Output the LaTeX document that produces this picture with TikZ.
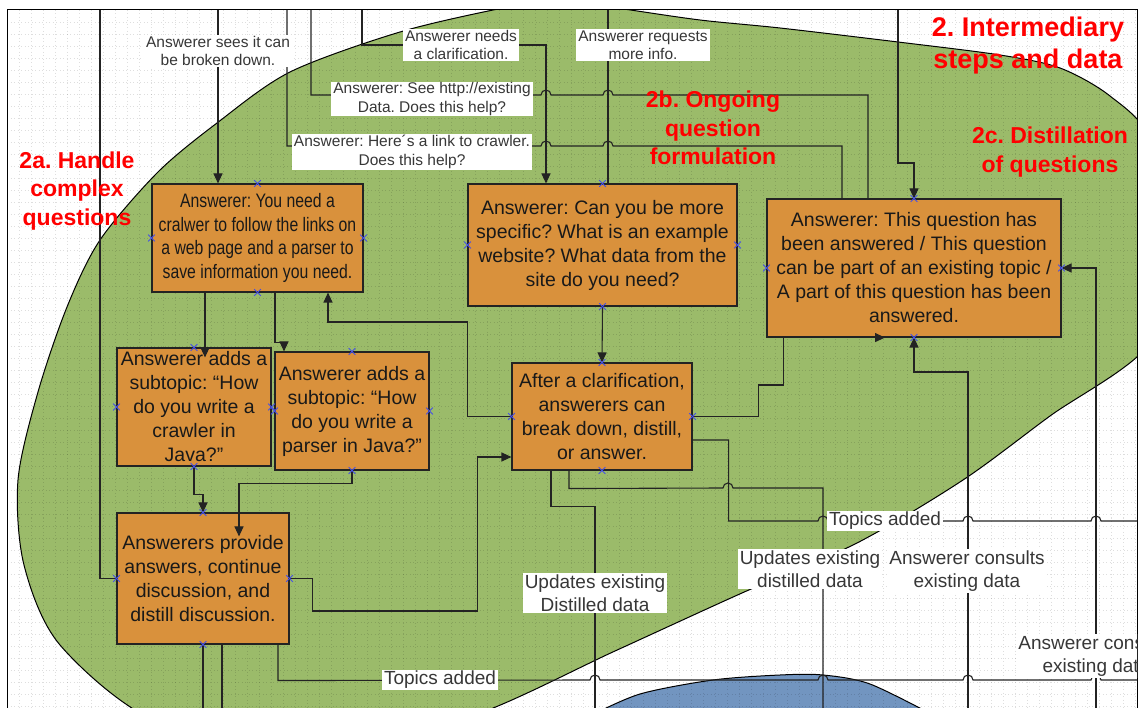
\documentclass[tikz,border=0pt]{standalone}
\usepackage{fontspec}
\setmainfont{Liberation Sans}
\newfontfamily\narrowfont[FakeStretch=0.81]{Liberation Sans}
\usetikzlibrary{arrows.meta,shapes.misc}
\frenchspacing
\definecolor{blobgreen}{RGB}{155,187,106}
\definecolor{boxorange}{RGB}{217,145,60}
\definecolor{poolblue}{RGB}{114,149,192}
\definecolor{inkgray}{RGB}{35,35,35}
\definecolor{tagtext}{RGB}{55,55,55}
\definecolor{stagered}{RGB}{255,0,0}
\definecolor{cpblue}{RGB}{70,80,230}
\tikzset{
  stepbox/.style={draw=inkgray, line width=1.1pt, fill=boxorange, align=center,
    inner sep=0pt, text=black!90, font=\fontsize{19.5}{24}\selectfont},
  tag/.style={fill=white, inner xsep=2pt, inner ysep=1pt, align=center,
    text=tagtext, font=\fontsize{15.5}{18.5}\selectfont},
  bigtag/.style={tag, inner ysep=1.5pt, font=\fontsize{19}{23}\selectfont},
  stage/.style={text=stagered, align=center, font=\bfseries\fontsize{23}{28.5}\selectfont},
  wire/.style={draw=inkgray, line width=1.1pt},
  feed/.style={wire, -{Triangle[length=10pt,width=9pt]}},
  cpmark/.style={cross out, draw=cpblue, line width=0.8pt, minimum size=6pt, inner sep=0pt},
  gridline/.style={black, opacity=0.13, line width=0.6pt, dash pattern=on 1pt off 2.5pt},
}
% line jump over a crossing wire
\newcommand{\hop}[2]{-- (#1-5,#2) arc[start angle=180,end angle=0,radius=5pt]}
\begin{document}
\begin{tikzpicture}[x=1pt, y=-1pt]
  \useasboundingbox (0,0) rectangle (1144,708);

  % stage area and data pool
  \begin{scope}
    \clip (7,10) rectangle (1137,720);
    \filldraw[fill=blobgreen, draw=black, line width=1pt] plot[smooth cycle, tension=0.5] coordinates {
      (158,722) (60,645) (24,565) (18,480) (38,392) (67,307) (100,240) (158,172)
      (217,123) (290,72) (400,32) (503,8) (560,0) (617,8) (700,20) (780,28)
      (898,42) (1000,55) (1060,68) (1110,96) (1150,140) (1165,250) (1148,345)
      (1050,416) (963,480) (857,543) (742,593) (615,651) (472,716) (320,750)};
    \filldraw[fill=poolblue, draw=black, line width=1pt] plot[smooth] coordinates {
      (590,716) (640,694) (713,680) (780,675) (823,675) (870,684) (935,716)} -- cycle;
    \foreach \gx in {19,31,...,1135}
      \draw[gridline] (\gx,10) -- (\gx,708);
    \foreach \gy in {22,34,...,706}
      \draw[gridline] (7,\gy) -- (1137,\gy);
  \end{scope}
  \draw[line width=1pt] (7,720) -- (7,10) -- (1137,10) -- (1137,720);

  % steps
  \node[stepbox, minimum width=211pt, minimum height=108pt,
    font=\narrowfont\fontsize{19.5}{23.5}\selectfont] (crawlAns) at (257.5,238)
    {Answerer: You need a\\cralwer to follow the links on\\a web page and a parser to\\save information you need.};
  \node[stepbox, minimum width=154pt, minimum height=118pt] (subCrawl) at (194,407)
    {Answerer adds a\\subtopic: “How\\do you write a\\crawler in\\Java?”};
  \node[stepbox, minimum width=154pt, minimum height=118pt] (subParser) at (352,411)
    {Answerer adds a\\subtopic: “How\\do you write a\\parser in Java?”};
  \node[stepbox, minimum width=172pt, minimum height=131pt] (provide) at (203,578.5)
    {Answerers provide\\answers, continue\\discussion, and\\distill discussion.};
  \node[stepbox, minimum width=269pt, minimum height=122pt] (specific) at (602.5,245)
    {Answerer: Can you be more\\specific? What is an example\\website? What data from the\\site do you need?};
  \node[stepbox, minimum width=180pt, minimum height=107pt] (clarify) at (602,416.5)
    {After a clarification,\\answerers can\\break down, distill,\\or answer.};
  \node[stepbox, minimum width=294pt, minimum height=138pt] (distill) at (914,268)
    {Answerer: This question has\\been answered / This question\\can be part of an existing topic /\\A part of this question has been\\answered.};

  % ends of the wires at the frame
  \coordinate (topSub) at (100,10);
  \coordinate (topBreak) at (218,10);
  \coordinate (topLink) at (287,10);
  \coordinate (topSee) at (311,10);
  \coordinate (topClar) at (362,10);
  \coordinate (topMore) at (608,10);
  \coordinate (topDist) at (898,10);
  \coordinate (clarPt) at (461,45);
  \coordinate (seePt) at (432,95);
  \coordinate (linkPt) at (412,146);
  \coordinate (lowD1) at (203,708);
  \coordinate (lowD2) at (222,708);
  \coordinate (lowF1) at (595,708);
  \coordinate (lowF2) at (823,708);
  \coordinate (lowG1) at (968,708);
  \coordinate (lowG2) at (1096,708);
  \coordinate (edgeTop) at (1137,521);
  \coordinate (edgeLow) at (1137,680);

  % wires
  \draw[feed] (topBreak) -- ([xshift=-39.5pt]crawlAns.north);
  \draw[feed] (topClar) |- (clarPt) -| ([xshift=-56.5pt]specific.north);
  \draw[wire] (topMore) -- ([xshift=5.5pt]specific.north);
  \draw[wire] (topSee) |- (seePt) \hop{546}{95} \hop{608}{95} -| ([xshift=-46pt]distill.north);
  \draw[wire] (topLink) |- (linkPt) \hop{546}{146} \hop{608}{146} -| ([xshift=-72pt]distill.north);
  \draw[feed] (topDist) -- ++(0,153) -| (distill.north);
  \draw[wire] (topSub) |- (provide.west);
  \draw[feed] ([xshift=-52.5pt]crawlAns.south) -- ([xshift=11pt,yshift=-10pt]subCrawl.north);
  \draw[feed] ([xshift=17.5pt]crawlAns.south) -- ++(0,50) -| ([xshift=-68pt]subParser.north);
  \draw[feed] (clarify.west) -- ++(-44,0) -- ++(0,-94.5) -| ([xshift=70.5pt]crawlAns.south);
  \draw[feed] (subCrawl.south) -- ++(0,28) -| (provide.north);
  \draw[feed] (subParser.south) -- ++(0,13) -| ([xshift=36pt,yshift=-24pt]provide.north);
  \draw[feed] (provide.east) -- ++(23,0) -- ++(0,32.5) -- ++(165,0) |- ([yshift=-40.5pt]clarify.west);
  \draw[feed] (specific.south) -- (clarify.north);
  \draw[wire] ([xshift=-51pt]clarify.south) -- ++(0,36) -| (lowF1);
  \draw[wire] ([xshift=-33pt]clarify.south) -- ++(0,18) \hop{728}{488} -| (lowF2);
  \draw[wire] ([yshift=-23.5pt]clarify.east) -- ++(36,0) -- ++(0,81)
    \hop{823}{521} \hop{968}{521} \hop{1096}{521} -- (edgeTop);
  \draw[wire] ([xshift=75pt]provide.south) -- ++(0,36)
    \hop{595}{680} \hop{823}{680} \hop{968}{680} \hop{1096}{680} -- (edgeLow);
  \draw[wire] (provide.south) -- (lowD1);
  \draw[wire] ([xshift=19pt]provide.south) -- (lowD2);
  \draw[feed] (clarify.east) -- ++(66,0) -- ++(0,-31.5) -- ++(25,0) |- ([xshift=-29pt]distill.south);
  \draw[feed] (lowG1) -- ++(0,-336) -| (distill.south);
  \draw[feed] (lowG2) |- (distill.east);

  % connection points
  \foreach \b in {crawlAns,subCrawl,subParser,provide,specific,clarify,distill}
    \foreach \a in {north,south,east,west}
      \node[cpmark] at (\b.\a) {};

  % wire labels
  \node[tag] (tagBreak) at (218,51) {Answerer sees it can\\be broken down.};
  \node[tag] (tagClar) at (clarPt) {Answerer needs\\a clarification.};
  \node[tag] (tagMore) at (643,45) {Answerer requests\\more info.};
  \node[tag] (tagSee) at ([yshift=-4pt]seePt) {Answerer: See http://existing\\Data. Does this help?};
  \node[tag] (tagLink) at ([yshift=-6pt]linkPt) {Answerer: Here´s a link to crawler.\\Does this help?};
  \node[bigtag] (tagUpd1) at (595,593) {Updates existing\\Distilled data};
  \node[bigtag] (tagUpd2) at (810,569) {Updates existing\\distilled data};
  \node[bigtag] (tagCons1) at (967,571) {Answerer consults\\existing data};
  \node[bigtag] (tagTop1) at (440,680) {Topics added};
  \node[bigtag] (tagTop2) at (885,521) {Topics added};
  \begin{scope}
    \clip (7,10) rectangle (1137,708);
    \node[bigtag] (tagCons2) at (1096,656) {Answerer consults\\existing data};
  \end{scope}

  % stage titles
  \node[stage] (stageA) at (77,191) {2a. Handle\\complex\\questions};
  \node[stage, font=\bfseries\fontsize{27}{32}\selectfont] (stageMain) at (1028,46) {2. Intermediary\\steps and data};
  \node[stage] (stageB) at (713,128) {2b. Ongoing\\question\\formulation};
  \node[stage] (stageC) at (1050,152) {2c. Distillation\\of questions};
\end{tikzpicture}
\end{document}
